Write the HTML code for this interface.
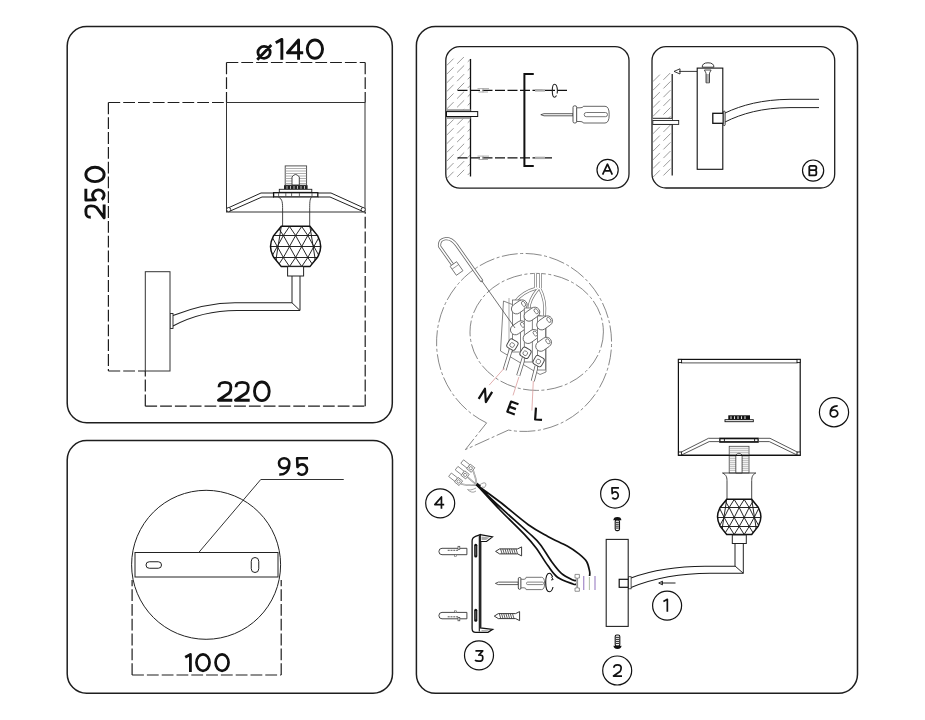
<!DOCTYPE html>
<html><head><meta charset="utf-8"><style>
html,body{margin:0;padding:0;background:#fff;width:925px;height:720px;overflow:hidden}
svg{display:block}
text{font-family:"Liberation Sans",sans-serif}
</style></head><body>
<svg width="925" height="720" viewBox="0 0 925 720" font-family="Liberation Sans, sans-serif">
<rect width="925" height="720" fill="#fff"/>
<rect x="67.2" y="26.6" width="325.1" height="396.2" rx="19.5" fill="none" stroke="#1e1e1e" stroke-width="1.5"/>
<g fill="none" stroke="#1e1e1e" stroke-width="1.2" stroke-dasharray="11.8 3"><path d="M226.5,62.5 V102.5 M226.5,62.5 H365.2 M365.2,62.5 V102.5"/><path d="M108.4,102.5 V371 M108.4,102.5 H226.5 M108.4,371 H145.3"/><path d="M145.3,406.2 V371 M145.3,406.2 H365.2 M365.2,406.2 V212"/></g>
<rect x="226.5" y="102.5" width="138.5" height="109.5" fill="none" stroke="#333" stroke-width="1"/>
<path d="M228,208 L261,193 H274 M229.5,211.3 L262,197 H274 M364,208 L331,193 H318 M362.5,211.3 L330,197 H318" fill="none" stroke="#222" stroke-width="1"/>
<circle cx="228.6" cy="209.6" r="2.1" fill="#fff" stroke="#222" stroke-width="0.9"/><circle cx="363.2" cy="209.6" r="2.1" fill="#fff" stroke="#222" stroke-width="0.9"/>
<rect x="285.2" y="165.9" width="21.4" height="19.3" fill="#fff" stroke="#444" stroke-width="0.9"/>
<path d="M285.5,168.5 H306.3 M285.5,171.0 H306.3 M285.5,173.5 H306.3 M285.5,176.0 H306.3 M285.5,178.5 H306.3 M285.5,181.0 H306.3 M285.5,183.5 H306.3" stroke="#999" stroke-width="0.8"/>
<path d="M292,185 V177 Q295.6,172 299.3,177 V185 Z" fill="#fff" stroke="#333" stroke-width="0.9"/>
<rect x="284" y="185.2" width="23.6" height="4.2" fill="#222"/>
<path d="M287,186 V189 M290.5,186 V189 M294,186 V189 M297.5,186 V189 M301,186 V189 M304.5,186 V189" stroke="#bbb" stroke-width="1"/>
<rect x="279.3" y="189.3" width="32.5" height="3" fill="#fff" stroke="#222" stroke-width="0.9"/>
<rect x="273.6" y="192.7" width="44.2" height="4.2" fill="#fff" stroke="#111" stroke-width="1.3"/>
<path d="M278.6,193 V196.6 M285.8,193 V196.6 M291.6,193 V196.6 M299.4,193 V196.6 M312,193 V196.6" stroke="#444" stroke-width="0.8"/>
<path d="M278.5,197.2 C282.6,199 282.6,203 282.6,210 V226 M311.5,197.2 C309.7,199 309.7,203 309.7,210 V226" fill="none" stroke="#333" stroke-width="0.9"/>
<clipPath id="clip295226"><path d="M281.3,226.2 L309.9,226.2 L317.7,235.8 Q320.7,241.6 320.7,246.4 Q320.7,251.2 317.7,257.0 L309.9,266.6 L281.3,266.6 L273.5,257.0 Q270.5,251.2 270.5,246.4 Q270.5,241.6 273.5,235.8 Z"/></clipPath>
<g clip-path="url(#clip295226)" stroke="#1a1a1a" stroke-width="0.95" fill="none"><path d="M265.5,226.5 H325.7 M265.5,235.5 H325.7 M265.5,246.5 H325.7 M265.5,257.5 H325.7 M265.5,266.5 H325.7 M240.7,226.5 L234.6,235.5 M240.7,226.5 L246.8,235.5 M252.9,226.5 L246.8,235.5 M252.9,226.5 L259.0,235.5 M265.1,226.5 L259.0,235.5 M265.1,226.5 L271.2,235.5 M277.3,226.5 L271.2,235.5 M277.3,226.5 L283.4,235.5 M289.5,226.5 L283.4,235.5 M289.5,226.5 L295.6,235.5 M301.7,226.5 L295.6,235.5 M301.7,226.5 L307.8,235.5 M313.9,226.5 L307.8,235.5 M313.9,226.5 L320.0,235.5 M326.1,226.5 L320.0,235.5 M326.1,226.5 L332.2,235.5 M338.3,226.5 L332.2,235.5 M338.3,226.5 L344.4,235.5 M350.5,226.5 L344.4,235.5 M350.5,226.5 L356.6,235.5 M362.7,226.5 L356.6,235.5 M362.7,226.5 L368.8,235.5 M234.6,235.5 L228.5,246.5 M234.6,235.5 L240.7,246.5 M246.8,235.5 L240.7,246.5 M246.8,235.5 L252.9,246.5 M259.0,235.5 L252.9,246.5 M259.0,235.5 L265.1,246.5 M271.2,235.5 L265.1,246.5 M271.2,235.5 L277.3,246.5 M283.4,235.5 L277.3,246.5 M283.4,235.5 L289.5,246.5 M295.6,235.5 L289.5,246.5 M295.6,235.5 L301.7,246.5 M307.8,235.5 L301.7,246.5 M307.8,235.5 L313.9,246.5 M320.0,235.5 L313.9,246.5 M320.0,235.5 L326.1,246.5 M332.2,235.5 L326.1,246.5 M332.2,235.5 L338.3,246.5 M344.4,235.5 L338.3,246.5 M344.4,235.5 L350.5,246.5 M356.6,235.5 L350.5,246.5 M356.6,235.5 L362.7,246.5 M240.7,246.5 L234.6,257.5 M240.7,246.5 L246.8,257.5 M252.9,246.5 L246.8,257.5 M252.9,246.5 L259.0,257.5 M265.1,246.5 L259.0,257.5 M265.1,246.5 L271.2,257.5 M277.3,246.5 L271.2,257.5 M277.3,246.5 L283.4,257.5 M289.5,246.5 L283.4,257.5 M289.5,246.5 L295.6,257.5 M301.7,246.5 L295.6,257.5 M301.7,246.5 L307.8,257.5 M313.9,246.5 L307.8,257.5 M313.9,246.5 L320.0,257.5 M326.1,246.5 L320.0,257.5 M326.1,246.5 L332.2,257.5 M338.3,246.5 L332.2,257.5 M338.3,246.5 L344.4,257.5 M350.5,246.5 L344.4,257.5 M350.5,246.5 L356.6,257.5 M362.7,246.5 L356.6,257.5 M362.7,246.5 L368.8,257.5 M234.6,257.5 L228.5,266.5 M234.6,257.5 L240.7,266.5 M246.8,257.5 L240.7,266.5 M246.8,257.5 L252.9,266.5 M259.0,257.5 L252.9,266.5 M259.0,257.5 L265.1,266.5 M271.2,257.5 L265.1,266.5 M271.2,257.5 L277.3,266.5 M283.4,257.5 L277.3,266.5 M283.4,257.5 L289.5,266.5 M295.6,257.5 L289.5,266.5 M295.6,257.5 L301.7,266.5 M307.8,257.5 L301.7,266.5 M307.8,257.5 L313.9,266.5 M320.0,257.5 L313.9,266.5 M320.0,257.5 L326.1,266.5 M332.2,257.5 L326.1,266.5 M332.2,257.5 L338.3,266.5 M344.4,257.5 L338.3,266.5 M344.4,257.5 L350.5,266.5 M356.6,257.5 L350.5,266.5 M356.6,257.5 L362.7,266.5"/><path d="M281.3,226.2 L276.3,257.5 L276.3,266.5 L281.3,266.6 M309.9,226.2 L314.9,257.5 L314.9,266.5 L309.9,266.6"/></g>
<path d="M281.3,226.2 L309.9,226.2 L317.7,235.8 Q320.7,241.6 320.7,246.4 Q320.7,251.2 317.7,257.0 L309.9,266.6 L281.3,266.6 L273.5,257.0 Q270.5,251.2 270.5,246.4 Q270.5,241.6 273.5,235.8 Z" fill="none" stroke="#111" stroke-width="1.5"/>
<rect x="287.6" y="266.6" width="16" height="9.4" fill="#fff" stroke="#222" stroke-width="1"/>
<path d="M292,276 V302.8 L300,310.5 V276" fill="none" stroke="#222" stroke-width="1"/>
<path d="M173,315.5 Q205,303 235,302.8 L292,302.8 M173,326 Q202,310.5 237,310.5 L300,310.5" fill="none" stroke="#222" stroke-width="1.1"/>
<rect x="170" y="313.5" width="3" height="15" fill="#fff" stroke="#222" stroke-width="0.9"/>
<rect x="145.3" y="271.7" width="24.7" height="99.3" fill="#fff" stroke="#333" stroke-width="1"/>
<path d="M257.90,52.35 A6.15,5.95 0 1 1 270.20,52.35 A6.15,5.95 0 1 1 257.90,52.35 Z M257.25,59.70 L271.30,45.00" fill="none" stroke="#111" stroke-width="2.8" stroke-linejoin="round"/>
<path d="M281.85,59.70 V39.37 L275.73,42.74" fill="none" stroke="#111" stroke-width="2.9" stroke-linejoin="round"/>
<path d="M298.56,59.70 V39.95 L287.45,52.81 H303.20" fill="none" stroke="#111" stroke-width="2.9" stroke-linejoin="round"/>
<path d="M307.25,49.10 A7.65,9.15 0 1 1 322.55,49.10 A7.65,9.15 0 1 1 307.25,49.10 Z" fill="none" stroke="#111" stroke-width="2.9" stroke-linejoin="round"/>
<path d="M1.45,6.36 C1.45,2.12 3.58,1.45 7.15,1.45 C11.15,1.45 12.85,2.54 12.85,6.36 C12.85,8.90 12.58,10.60 11.15,12.30 L0.87,19.75 H14.30" fill="none" stroke="#111" stroke-width="2.9" stroke-linejoin="round" transform="translate(84.4,218.7) rotate(-90)"/>
<path d="M30.01,1.45 H18.57 L19.01,11.11 A5.27,5.76 0 1 1 19.26,17.29" fill="none" stroke="#111" stroke-width="2.9" stroke-linejoin="round" transform="translate(84.4,218.7) rotate(-90)"/>
<path d="M37.05,10.60 A7.20,9.15 0 1 1 51.45,10.60 A7.20,9.15 0 1 1 37.05,10.60 Z" fill="none" stroke="#111" stroke-width="2.9" stroke-linejoin="round" transform="translate(84.4,218.7) rotate(-90)"/>
<path d="M219.03,387.14 C219.03,382.98 221.28,382.32 224.95,382.32 C229.07,382.32 230.87,383.40 230.87,387.14 C230.87,389.64 230.54,391.30 229.07,392.96 L218.45,400.27 H232.30" fill="none" stroke="#111" stroke-width="2.85" stroke-linejoin="round"/>
<path d="M236.03,387.14 C236.03,382.98 238.38,382.32 242.15,382.32 C246.38,382.32 248.27,383.40 248.27,387.14 C248.27,389.64 247.89,391.30 246.38,392.96 L235.45,400.27 H249.70" fill="none" stroke="#111" stroke-width="2.85" stroke-linejoin="round"/>
<path d="M254.53,391.30 A7.33,8.97 0 1 1 269.18,391.30 A7.33,8.97 0 1 1 254.53,391.30 Z" fill="none" stroke="#111" stroke-width="2.85" stroke-linejoin="round"/>
<rect x="67.2" y="440.6" width="325.3" height="252.7" rx="19.5" fill="none" stroke="#1e1e1e" stroke-width="1.5"/>
<circle cx="206.1" cy="564.8" r="74.5" fill="none" stroke="#222" stroke-width="1"/>
<rect x="135" y="552.5" width="143" height="24.5" fill="#fff" stroke="#222" stroke-width="1"/>
<rect x="146" y="561.75" width="15.5" height="6.5" rx="3.25" fill="none" stroke="#222" stroke-width="1"/>
<rect x="251.25" y="557.5" width="7.5" height="15" rx="3.75" fill="none" stroke="#222" stroke-width="1"/>
<path d="M198.75,552.5 L260.75,479.5 H343.75" fill="none" stroke="#333" stroke-width="1"/>
<path d="M132.1,675 V580 M132.1,675 H281.2 M281.2,675 V580" fill="none" stroke="#1e1e1e" stroke-width="1.2" stroke-dasharray="11.8 3"/>
<path d="M279.00,463.30 A5.15,5.00 0 1 1 289.30,463.30 A5.15,5.00 0 1 1 279.00,463.30 M289.30,463.30 C289.30,472.28 284.15,474.80 279.25,474.54" fill="none" stroke="#111" stroke-width="2.6" stroke-linejoin="round"/>
<path d="M308.03,458.30 H297.15 L297.50,467.01 A5.09,5.19 0 1 1 297.74,472.59" fill="none" stroke="#111" stroke-width="2.6" stroke-linejoin="round"/>
<path d="M190.40,671.90 V654.44 L185.20,657.26" fill="none" stroke="#111" stroke-width="2.8" stroke-linejoin="round"/>
<path d="M196.45,662.60 A6.55,8.25 0 1 1 209.55,662.60 A6.55,8.25 0 1 1 196.45,662.60 Z" fill="none" stroke="#111" stroke-width="2.7" stroke-linejoin="round"/>
<path d="M215.55,662.60 A6.50,8.25 0 1 1 228.55,662.60 A6.50,8.25 0 1 1 215.55,662.60 Z" fill="none" stroke="#111" stroke-width="2.7" stroke-linejoin="round"/>
<rect x="416.4" y="26.5" width="441.1" height="666.8" rx="19" fill="none" stroke="#1e1e1e" stroke-width="1.5"/>
<rect x="445.8" y="46.6" width="183.2" height="141.5" rx="14" fill="none" stroke="#1e1e1e" stroke-width="1.3"/>
<clipPath id="hA"><rect x="446.5" y="57" width="24.0" height="121"/></clipPath>
<g clip-path="url(#hA)" stroke="#8a8a8a" stroke-width="0.85" stroke-dasharray="10 5"><path d="M446.5,57.0 L470.5,33.0 M446.5,65.7 L470.5,41.7 M446.5,74.4 L470.5,50.4 M446.5,83.1 L470.5,59.1 M446.5,91.8 L470.5,67.8 M446.5,100.5 L470.5,76.5 M446.5,109.2 L470.5,85.2 M446.5,117.9 L470.5,93.9 M446.5,126.6 L470.5,102.6 M446.5,135.3 L470.5,111.3 M446.5,144.0 L470.5,120.0 M446.5,152.7 L470.5,128.7 M446.5,161.4 L470.5,137.4 M446.5,170.1 L470.5,146.1 M446.5,178.8 L470.5,154.8 M446.5,187.5 L470.5,163.5 M446.5,196.2 L470.5,172.2 M446.5,204.9 L470.5,180.9 M446.5,213.6 L470.5,189.6 M446.5,222.3 L470.5,198.3"/></g>
<path d="M470.5,59 V176.5" stroke="#111" stroke-width="1.3"/>
<rect x="446.5" y="109.2" width="24" height="9.7" fill="#999"/>
<rect x="446.5" y="111.6" width="31.2" height="4.9" fill="#fff" stroke="#111" stroke-width="1"/>
<path d="M457.5,90.4 H567 M457.5,157.9 H552" stroke="#111" stroke-width="1.2" stroke-dasharray="10 2.5"/>
<path d="M477.5,88.60000000000001 H489 M478.5,92.0 H488 M483,88.4 V92.4" fill="none" stroke="#999" stroke-width="0.8"/>
<rect x="535" y="89.2" width="10" height="2.4" fill="#aaa"/>
<path d="M477.5,156.1 H489 M478.5,159.5 H488 M483,155.9 V159.9" fill="none" stroke="#999" stroke-width="0.8"/>
<rect x="535" y="156.70000000000002" width="10" height="2.4" fill="#aaa"/>
<path d="M533.75,74 H524.4 V166 H533.75" fill="none" stroke="#111" stroke-width="2"/>
<path d="M556.5,95.5 Q555.5,97.3 554.5,97.3 Q552.3,97.3 552.3,90.8 Q552.3,84.3 554.5,84.3 Q557.2,84.3 557.4,90.8 Q557.4,92.5 557,93.5" fill="none" stroke="#222" stroke-width="1.1"/>
<path d="M540.8,114.7 L544,113.7 H573 V115.8 H544 Z" fill="#fff" stroke="#333" stroke-width="0.8"/>
<rect x="573" y="105.8" width="3.7" height="17.2" rx="1.6" fill="#fff" stroke="#444" stroke-width="0.9"/>
<path d="M576.7,107.8 H580 Q583.3,107.8 583.3,106.3 H605 Q609.2,106.3 609.2,114.6 Q609.2,123 605,123 H583.3 Q583.3,121.5 580,121.5 H576.7 Z" fill="#fff" stroke="#555" stroke-width="0.9"/>
<rect x="584.2" y="112.5" width="23.3" height="4.2" rx="2.1" fill="none" stroke="#555" stroke-width="0.8"/>
<circle cx="607.6" cy="169.9" r="10.6" fill="#fff" stroke="#111" stroke-width="1.2"/>
<path d="M602.62,174.70 L607.45,164.15 L612.28,174.70 M605.04,170.82 H609.87" fill="none" stroke="#111" stroke-width="1.7" stroke-linejoin="round"/>
<rect x="652" y="46.7" width="182.7" height="141.3" rx="14" fill="none" stroke="#1e1e1e" stroke-width="1.3"/>
<clipPath id="hB"><rect x="652.8" y="73" width="19.200000000000045" height="104"/></clipPath>
<g clip-path="url(#hB)" stroke="#8a8a8a" stroke-width="0.85" stroke-dasharray="10 5"><path d="M652.8,73.0 L672.0,53.8 M652.8,81.7 L672.0,62.5 M652.8,90.4 L672.0,71.2 M652.8,99.1 L672.0,79.9 M652.8,107.8 L672.0,88.6 M652.8,116.5 L672.0,97.3 M652.8,125.2 L672.0,106.0 M652.8,133.9 L672.0,114.7 M652.8,142.6 L672.0,123.4 M652.8,151.3 L672.0,132.1 M652.8,160.0 L672.0,140.8 M652.8,168.7 L672.0,149.5 M652.8,177.4 L672.0,158.2 M652.8,186.1 L672.0,166.9 M652.8,194.8 L672.0,175.6 M652.8,203.5 L672.0,184.3 M652.8,212.2 L672.0,193.0"/></g>
<path d="M672.2,73.9 V175.5" stroke="#111" stroke-width="1.2"/>
<rect x="652.8" y="118.3" width="19.4" height="6.1" fill="#fff"/>
<path d="M652.8,118.3 H672.2 M652.8,124.4 H672.2" stroke="#222" stroke-width="1"/>
<rect x="652.8" y="120.5" width="25.9" height="3.9" fill="#fff" stroke="#222" stroke-width="0.9"/>
<path d="M697.2,71.4 H679 M680,68.8 L674,71.4 L680,74 Z" fill="#fff" stroke="#222" stroke-width="0.9"/>
<rect x="697.2" y="68.1" width="25.6" height="101.2" fill="#fff" stroke="#111" stroke-width="1.1"/>
<path d="M702.2,67.2 Q702.2,62.8 708,62.8 Q713.9,62.8 713.9,67.2 Z" fill="#fff" stroke="#222" stroke-width="0.9"/>
<path d="M704.4,70 H711.1 L709.5,73 V82.8 H706 V73 Z" fill="#fff" stroke="#222" stroke-width="0.8"/>
<path d="M706,75 H709.5 M706,77 H709.5 M706,79 H709.5 M706,81 H709.5" stroke="#222" stroke-width="0.7"/>
<rect x="712.8" y="113.3" width="10.5" height="10" fill="#fff" stroke="#111" stroke-width="1.3"/>
<path d="M725,113 C742,105 762,99.6 790,99.3 L819,99.3 M725,122 C742,113.5 762,107.8 790,107.6 L819,107.6" fill="none" stroke="#222" stroke-width="1"/>
<rect x="723.3" y="111.1" width="1.8" height="14.5" rx="0.9" fill="#fff" stroke="#222" stroke-width="0.9"/>
<circle cx="813.1" cy="170.6" r="10.6" fill="#fff" stroke="#111" stroke-width="1.2"/>
<path d="M809.30,165.90 V175.30 H814.98 C816.90,175.30 816.90,170.04 814.98,170.04 H809.30 M809.30,165.90 H814.51 C817.05,165.90 817.05,170.04 814.51,170.04" fill="none" stroke="#111" stroke-width="1.8" stroke-linejoin="round"/>
<path d="M486.6,422.9 A87.5,89 0 1 1 508.5,430.05 L465.4,449.6 Z" fill="none" stroke="#6a6a6a" stroke-width="0.8" stroke-dasharray="16 2.5 3 2.5"/>
<ellipse cx="536.7" cy="331.9" rx="66.7" ry="58.5" fill="none" stroke="#6a6a6a" stroke-width="0.8" stroke-dasharray="16 2.5 3 2.5"/>
<path d="M481.5,280.5 L456.5,245 Q451,237.5 445,238.8 Q438.8,240 439.6,246.5 L453.5,266" fill="none" stroke="#6a6a6a" stroke-width="3.2" stroke-linecap="round"/>
<path d="M481.5,280.5 L456.5,245 Q451,237.5 445,238.8 Q438.8,240 439.6,246.5 L453.5,266" fill="none" stroke="#fff" stroke-width="1.6" stroke-linecap="round"/>
<g transform="translate(456.5,268.5) rotate(-35)"><rect x="-4" y="-5.5" width="8" height="11" fill="#fff" stroke="#666" stroke-width="0.8"/><path d="M-4,-2 H4" stroke="#666" stroke-width="0.6"/></g>
<path d="M503.5,301 L500.5,351 L540,374.5 L546,372 L546,318 Z" fill="#fff" stroke="#666" stroke-width="0.8"/>
<path d="M509,298 V352" stroke="#888" stroke-width="0.7"/>
<path d="M535.5,273 V288 M540.5,273 V288 M537,288 Q522,292 515,302 M538,289 Q529,300 529,309 M540,289 Q546,300 544.5,316" fill="none" stroke="#777" stroke-width="3" />
<path d="M535.5,273 V288 M540.5,273 V288 M537,288 Q522,292 515,302 M538,289 Q529,300 529,309 M540,289 Q546,300 544.5,316" fill="none" stroke="#fff" stroke-width="1.6" />
<path d="M510.9,349.4 L504.6,369.8 M524,357.2 L518.2,375.7 M536.6,366 L532.8,381" fill="none" stroke="#666" stroke-width="4" />
<path d="M510.9,349.4 L504.6,369.8 M524,357.2 L518.2,375.7 M536.6,366 L532.8,381" fill="none" stroke="#fff" stroke-width="2.4" />
<rect x="512.4" y="300" width="8" height="52" fill="#fff" stroke="#666" stroke-width="0.8"/>
<g transform="translate(519.3,306.9) rotate(-35)"><rect x="-8.5" y="-5" width="17" height="10" rx="5" fill="#fff" stroke="#555" stroke-width="0.8"/><ellipse cx="5.2" cy="0" rx="1.7" ry="2.8" fill="none" stroke="#555" stroke-width="0.7"/></g>
<g transform="translate(518.3,327.8) rotate(-35)"><rect x="-8.5" y="-5" width="17" height="10" rx="5" fill="#fff" stroke="#555" stroke-width="0.8"/><ellipse cx="5.2" cy="0" rx="1.7" ry="2.8" fill="none" stroke="#555" stroke-width="0.7"/></g>
<g transform="translate(512.4,344.6) rotate(30)"><rect x="-4.8" y="-4.8" width="9.6" height="9.6" rx="2.5" fill="#fff" stroke="#444" stroke-width="0.9"/><circle cx="0" cy="0.5" r="2.3" fill="none" stroke="#555" stroke-width="0.7"/></g>
<rect x="524.3" y="308" width="8" height="54" fill="#fff" stroke="#666" stroke-width="0.8"/>
<g transform="translate(531.9,314.2) rotate(-35)"><rect x="-8.5" y="-5" width="17" height="10" rx="5" fill="#fff" stroke="#555" stroke-width="0.8"/><ellipse cx="5.2" cy="0" rx="1.7" ry="2.8" fill="none" stroke="#555" stroke-width="0.7"/></g>
<g transform="translate(531.0,336.5) rotate(-35)"><rect x="-8.5" y="-5" width="17" height="10" rx="5" fill="#fff" stroke="#555" stroke-width="0.8"/><ellipse cx="5.2" cy="0" rx="1.7" ry="2.8" fill="none" stroke="#555" stroke-width="0.7"/></g>
<g transform="translate(525.5,352.8) rotate(30)"><rect x="-4.8" y="-4.8" width="9.6" height="9.6" rx="2.5" fill="#fff" stroke="#444" stroke-width="0.9"/><circle cx="0" cy="0.5" r="2.3" fill="none" stroke="#555" stroke-width="0.7"/></g>
<rect x="537.4" y="316" width="8" height="54" fill="#fff" stroke="#666" stroke-width="0.8"/>
<g transform="translate(544.6,322.9) rotate(-35)"><rect x="-8.5" y="-5" width="17" height="10" rx="5" fill="#fff" stroke="#555" stroke-width="0.8"/><ellipse cx="5.2" cy="0" rx="1.7" ry="2.8" fill="none" stroke="#555" stroke-width="0.7"/></g>
<g transform="translate(543.6,344.3) rotate(-35)"><rect x="-8.5" y="-5" width="17" height="10" rx="5" fill="#fff" stroke="#555" stroke-width="0.8"/><ellipse cx="5.2" cy="0" rx="1.7" ry="2.8" fill="none" stroke="#555" stroke-width="0.7"/></g>
<g transform="translate(538.6,361.1) rotate(30)"><rect x="-4.8" y="-4.8" width="9.6" height="9.6" rx="2.5" fill="#fff" stroke="#444" stroke-width="0.9"/><circle cx="0" cy="0.5" r="2.3" fill="none" stroke="#555" stroke-width="0.7"/></g>
<path d="M481.5,280.5 L515,328" stroke="#444" stroke-width="0.75"/>
<path d="M489.2,385.1 L504.4,368 M513,395.4 L518.9,377 M531.9,410.5 L533.3,381" stroke="#d99a9a" stroke-width="0.8"/>
<path d="M-3.90,6.50 V-5.40 L3.90,5.40 V-6.50" fill="none" stroke="#111" stroke-width="2.2" stroke-linejoin="round" transform="translate(485.4,395.4) rotate(32)"/>
<path d="M4.50,-5.40 H-3.40 V5.40 H4.50 M-3.40,0.00 H3.78" fill="none" stroke="#111" stroke-width="2.2" stroke-linejoin="round" transform="translate(512.4,407.8) rotate(20)"/>
<path d="M-2.90,-6.50 V5.40 H4.00" fill="none" stroke="#111" stroke-width="2.2" stroke-linejoin="round" transform="translate(538.4,414.3) rotate(4)"/>
<circle cx="440.2" cy="503.3" r="14.5" fill="#fff" stroke="#111" stroke-width="1.2"/>
<path d="M441.45,508.80 V496.95 L434.85,504.67 H444.20" fill="none" stroke="#111" stroke-width="1.7" stroke-linejoin="round"/>
<g transform="translate(470.7,468.2) rotate(38)" fill="#fff" stroke="#777" stroke-width="0.8"><rect x="-10.8" y="-2.2" width="8" height="4.4"/><rect x="-2.8" y="-2.9" width="5.8" height="5.8"/><circle cx="0.1" cy="0" r="1.6"/></g>
<g transform="translate(465.1,474.8) rotate(38)" fill="#fff" stroke="#777" stroke-width="0.8"><rect x="-10.8" y="-2.2" width="8" height="4.4"/><rect x="-2.8" y="-2.9" width="5.8" height="5.8"/><circle cx="0.1" cy="0" r="1.6"/></g>
<g transform="translate(458.5,481.4) rotate(38)" fill="#fff" stroke="#777" stroke-width="0.8"><rect x="-10.8" y="-2.2" width="8" height="4.4"/><rect x="-2.8" y="-2.9" width="5.8" height="5.8"/><circle cx="0.1" cy="0" r="1.6"/></g>
<path d="M473,470 Q476,478 476.8,484.9 M467.5,477 Q473,482 476.8,484.9 M461,484 Q470,486 476.8,484.9" fill="none" stroke="#888" stroke-width="1.6"/>
<path d="M473,470 Q476,478 476.8,484.9 M467.5,477 Q473,482 476.8,484.9 M461,484 Q470,486 476.8,484.9" fill="none" stroke="#fff" stroke-width="0.5"/>
<path d="M478,486 Q486,480 486,485 Q485,489 482,487 M476,488 Q470,491 467.5,489.5 Q472,494 476,491" fill="none" stroke="#999" stroke-width="0.9"/>
<path d="M476.8,484.9 C480.7,487.8 491.4,495.4 500.0,502.0 C508.6,508.6 520.3,519.0 528.3,524.7 C536.3,530.4 541.3,532.8 547.8,536.4 C554.3,540.0 562.0,543.2 567.2,546.1 C572.4,549.0 575.6,551.3 578.9,553.9 C582.1,556.5 584.9,558.8 586.7,561.7 C588.5,564.6 589.1,569.0 589.6,571.4 C590.1,573.8 589.6,575.2 589.6,576.0 M476.8,484.9 C480.7,488.6 491.4,499.1 500.0,507.0 C508.6,514.9 521.6,526.3 528.3,532.5 C535.0,538.7 536.1,539.3 540.0,544.2 C543.9,549.1 548.1,556.9 551.7,561.7 C555.3,566.6 557.9,570.2 561.4,573.3 C564.9,576.4 570.6,578.9 573.0,580.1 C575.4,581.3 575.5,580.3 576.0,580.3 M476.8,484.9 C480.7,489.1 492.1,501.8 500.0,510.0 C507.9,518.2 518.4,528.1 524.4,534.4 C530.4,540.7 532.2,542.8 536.1,548.0 C540.0,553.2 544.2,560.7 547.8,565.6 C551.4,570.5 553.3,574.1 557.5,577.2 C561.7,580.3 569.9,582.8 573.0,584.0 C576.1,585.2 575.5,584.2 576.0,584.2" fill="none" stroke="#111" stroke-width="1.7"/>
<path d="M476.5,484 L480,487" stroke="#111" stroke-width="3"/>
<path d="M575,574.4 H579.4 V578 H577.6 V588 H579.4 V591.25 H575 V588 H576.8 V578 H575 Z" fill="#fff" stroke="#777" stroke-width="0.8"/>
<path d="M583.75,576 V590 M595,576 V590" stroke="#9b7fc4" stroke-width="1.1"/>
<path d="M589.4,577 V590" stroke="#a5b59b" stroke-width="0.9"/>
<circle cx="479" cy="655.3" r="14.5" fill="#fff" stroke="#111" stroke-width="1.2"/>
<path d="M475.43,650.85 H482.74 L478.87,655.04 C483.17,654.80 482.75,656.60 482.75,658.40 C482.75,661.04 481.02,661.15 478.87,661.15 C477.58,661.15 475.86,661.04 475.00,660.20" fill="none" stroke="#111" stroke-width="1.7" stroke-linejoin="round"/>
<path d="M480.3,534.6 L475.5,536.3 Q472.1,537.6 472.1,541 V628.5 Q472.1,632.4 475.8,632.4 H488 L492.6,629.4 L480.3,627.9 Z" fill="#fff" stroke="#111" stroke-width="1.3"/>
<path d="M479.3,536 V631.5" stroke="#111" stroke-width="1.1"/>
<path d="M480.3,534.6 L492.6,536.9 L486.5,541.5 H480.3 Z" fill="#fff" stroke="#111" stroke-width="1.1"/>
<path d="M481.5,536.5 L489.5,537.6 L486,540 H481.5 Z M481.5,630 L489.5,630.2 L486.5,631.5 H481.5 Z" fill="#aaa"/>
<path d="M481,541.5 V627.9" stroke="#333" stroke-width="0.9"/>
<rect x="474.2" y="543.8" width="3.1" height="13.7" rx="1.5" fill="#111"/><rect x="474.2" y="608.7" width="3.1" height="13" rx="1.5" fill="#111"/>
<path d="M475.75,546 V555.5 M475.75,611 V619.5" stroke="#888" stroke-width="0.7"/>
<path d="M442,548.3 H466.9 V554.7 H442 Q438.9,554.7 438.9,551.5 Q438.9,548.3 442,548.3 Z" fill="#fff" stroke="#333" stroke-width="0.9"/>
<path d="M447.7,550.3 H458.4" stroke="#444" stroke-width="0.9" stroke-dasharray="2 0.8"/>
<rect x="458" y="546.3" width="1.8" height="3.2" fill="#fff" stroke="#444" stroke-width="0.7"/>
<rect x="454.6" y="554.7" width="2" height="1.5" fill="#fff" stroke="#555" stroke-width="0.6"/>
<path d="M442,612.4 H466.9 V618.8000000000001 H442 Q438.9,618.8000000000001 438.9,615.6 Q438.9,612.4 442,612.4 Z" fill="#fff" stroke="#333" stroke-width="0.9"/>
<path d="M447.7,616.8000000000001 H458.4" stroke="#444" stroke-width="0.9" stroke-dasharray="2 0.8"/>
<rect x="458" y="617.6" width="1.8" height="3.2" fill="#fff" stroke="#444" stroke-width="0.7"/>
<rect x="454.6" y="610.9" width="2" height="1.5" fill="#fff" stroke="#555" stroke-width="0.6"/>
<path d="M495.6,551.4 L499.6,548.9 H517.6 L521.6,546.9 V555.9 L517.6,553.9 H499.6 Z" fill="#fff" stroke="#222" stroke-width="0.9"/>
<path d="M500.6,548.9 L502.1,553.9 M502.8,548.9 L504.3,553.9 M505.0,548.9 L506.5,553.9 M507.2,548.9 L508.7,553.9 M509.4,548.9 L510.9,553.9 M511.6,548.9 L513.1,553.9 M513.8,548.9 L515.3,553.9 M516.0,548.9 L517.5,553.9" stroke="#333" stroke-width="0.8"/>
<path d="M494.3,616.1 L498.3,613.6 H515.6 L519.6,611.6 V620.6 L515.6,618.6 H498.3 Z" fill="#fff" stroke="#222" stroke-width="0.9"/>
<path d="M499.3,613.6 L500.8,618.6 M501.5,613.6 L503.0,618.6 M503.7,613.6 L505.2,618.6 M505.9,613.6 L507.4,618.6 M508.1,613.6 L509.6,618.6 M510.3,613.6 L511.8,618.6 M512.5,613.6 L514.0,618.6" stroke="#333" stroke-width="0.8"/>
<path d="M495.4,583.4 L498.3,582.1 H518.3 V584.6 H498.3 Z" fill="#fff" stroke="#333" stroke-width="0.8"/>
<rect x="518.3" y="577.5" width="2.7" height="11.8" rx="1.3" fill="#fff" stroke="#333" stroke-width="0.9"/>
<path d="M521,579.3 H524 Q526.1,579.3 526.1,577.3 H541.5 Q544.6,577.3 544.6,583.4 Q544.6,589.6 541.5,589.6 H526.1 Q526.1,587.8 524,587.8 H521 Z" fill="#fff" stroke="#666" stroke-width="0.9"/>
<rect x="526.5" y="582.1" width="17.1" height="2.5" rx="1.2" fill="none" stroke="#666" stroke-width="0.8"/>
<path d="M552.6,577 Q551,573.2 549.5,573.2 Q545.7,573.2 545.7,582.4 Q545.7,591.7 549.5,591.7 Q552,591.7 553,587" fill="none" stroke="#111" stroke-width="1.1"/>
<path d="M551.5,577 L553.2,579.5 L551,580" fill="none" stroke="#111" stroke-width="0.9"/>
<circle cx="615.05" cy="493.7" r="14.4" fill="#fff" stroke="#111" stroke-width="1.2"/>
<path d="M618.93,487.85 H611.97 L612.21,493.70 A3.24,3.50 0 1 1 612.36,497.46" fill="none" stroke="#111" stroke-width="1.7" stroke-linejoin="round"/>
<circle cx="617.2" cy="670.5" r="14.5" fill="#fff" stroke="#111" stroke-width="1.2"/>
<path d="M613.85,667.87 C613.85,665.29 615.25,664.85 617.50,664.85 C620.02,664.85 621.15,665.55 621.15,667.87 C621.15,669.42 620.92,670.45 620.02,671.48 L613.51,676.05 H622.00" fill="none" stroke="#111" stroke-width="1.7" stroke-linejoin="round"/>
<rect x="615.2" y="520" width="4.2999999999999545" height="10.600000000000023" rx="1.5" fill="#fff" stroke="#111" stroke-width="1.1"/>
<rect x="615.8000000000001" y="521.80" width="3.10" height="1.1" fill="#333"/>
<rect x="615.8000000000001" y="523.70" width="3.10" height="1.1" fill="#333"/>
<rect x="615.8000000000001" y="525.60" width="3.10" height="1.1" fill="#333"/>
<rect x="615.8000000000001" y="527.50" width="3.10" height="1.1" fill="#333"/>
<path d="M613.35,520.3 Q613.35,516.9 617.35,516.9 Q621.35,516.9 621.35,520.3 Z" fill="#111"/>
<rect x="615.2" y="635" width="4.599999999999909" height="11.100000000000023" rx="1.5" fill="#fff" stroke="#111" stroke-width="1.1"/>
<rect x="615.8000000000001" y="636.80" width="3.40" height="1.1" fill="#333"/>
<rect x="615.8000000000001" y="638.82" width="3.40" height="1.1" fill="#333"/>
<rect x="615.8000000000001" y="640.85" width="3.40" height="1.1" fill="#333"/>
<rect x="615.8000000000001" y="642.88" width="3.40" height="1.1" fill="#333"/>
<path d="M613.5,645.8 Q613.5,648.9 617.5,648.9 Q621.5,648.9 621.5,645.8 Z" fill="#111"/>
<rect x="606.2" y="539.4" width="22" height="87" fill="#fff" stroke="#222" stroke-width="1.1"/>
<rect x="619.2" y="579.3" width="9" height="8" fill="#fff" stroke="#111" stroke-width="1.2"/>
<path d="M631,578 C650,571 675,566.3 705,566.3 L735,566.3 M631,587.5 C652,579 680,573.3 710,573.3 L743.3,573.3" fill="none" stroke="#1a1a1a" stroke-width="1.1"/>
<rect x="628.5" y="576.7" width="2.6" height="12.1" fill="#fff" stroke="#222" stroke-width="0.8"/>
<path d="M675.5,583 H661 M662.5,581.2 L658.7,583 L662.5,584.8 Z" fill="#fff" stroke="#222" stroke-width="1"/>
<circle cx="667.1" cy="605.6" r="14.5" fill="#fff" stroke="#111" stroke-width="1.2"/>
<path d="M667.35,611.70 V599.31 L663.42,601.38" fill="none" stroke="#111" stroke-width="1.7" stroke-linejoin="round"/>
<circle cx="834" cy="412.2" r="14.6" fill="#fff" stroke="#111" stroke-width="1.2"/>
<path d="M830.25,413.48 A3.75,3.47 0 1 1 837.75,413.48 A3.75,3.47 0 1 1 830.25,413.48 M830.25,413.48 C830.25,408.28 833.08,405.95 837.68,405.95" fill="none" stroke="#111" stroke-width="1.7" stroke-linejoin="round"/>
<rect x="678.4" y="359.4" width="121.8" height="95.9" fill="#fff" stroke="#111" stroke-width="1.2"/>
<path d="M681,362.8 H797.6" stroke="#777" stroke-width="1.2"/>
<rect x="678.4" y="359.4" width="3.2" height="3.2" fill="#fff" stroke="#111" stroke-width="0.9"/>
<rect x="797.0" y="359.4" width="3.2" height="3.2" fill="#fff" stroke="#111" stroke-width="0.9"/>
<rect x="678.4" y="452.0" width="3.2" height="3.2" fill="#fff" stroke="#111" stroke-width="0.9"/>
<rect x="797.0" y="452.0" width="3.2" height="3.2" fill="#fff" stroke="#111" stroke-width="0.9"/>
<path d="M681,452.2 L708.5,438.3 H719.2 M681.5,455 L709.2,441.6 H719.2 M758.75,438.3 H770 L797.6,452.2 M758.75,441.6 H769.3 L797,455" fill="none" stroke="#444" stroke-width="0.9"/>
<rect x="719.2" y="437.6" width="39.55" height="5.2" fill="#111"/>
<rect x="720.5" y="439.3" width="37" height="1.8" fill="#fff"/>
<path d="M724.4,439 V441.4 M754.6,439 V441.4" stroke="#111" stroke-width="0.9"/>
<rect x="725" y="419.7" width="28.3" height="2" fill="#fff" stroke="#111" stroke-width="0.9"/>
<rect x="728.3" y="415.3" width="21.7" height="4.4" fill="#111"/>
<path d="M731,416.3 V419 M734.5,416.3 V419 M738,416.3 V419 M741.5,416.3 V419 M745,416.3 V419" stroke="#ddd" stroke-width="1.1"/>
<rect x="729.2" y="446.3" width="19.8" height="26.7" fill="#fff" stroke="#444" stroke-width="0.8"/>
<path d="M729.5,448.3 H748.7 M729.5,450.3 H748.7 M729.5,452.3 H748.7 M729.5,454.3 H748.7 M729.5,456.3 H748.7 M729.5,458.3 H748.7 M729.5,460.3 H748.7 M729.5,462.3 H748.7 M729.5,464.3 H748.7 M729.5,466.3 H748.7 M729.5,468.3 H748.7 M729.5,470.3 H748.7" stroke="#777" stroke-width="0.55"/>
<path d="M735.8,473 V455 Q738.95,451.5 742.1,455 V473 Z" fill="#fff" stroke="#333" stroke-width="0.8"/>
<path d="M678.4,455.3 H800.2" stroke="#111" stroke-width="1.2"/>
<path d="M722.5,473 H755.8 M722.5,473 C727,475 727,478 727,482 V499 M755.8,473 C751.7,475 751.7,478 751.7,482 V499" fill="none" stroke="#333" stroke-width="0.9"/>
<clipPath id="clip739499"><path d="M726.7,499.2 L751.7,499.2 L758.3,507.5 Q760.9,512.6 760.9,516.8 Q760.9,521.0 758.3,526.1 L751.7,534.4 L726.7,534.4 L720.1,526.1 Q717.5,521.0 717.5,516.8 Q717.5,512.6 720.1,507.5 Z"/></clipPath>
<g clip-path="url(#clip739499)" stroke="#1a1a1a" stroke-width="0.95" fill="none"><path d="M712.5,499.5 H765.9 M712.5,507.5 H765.9 M712.5,517.5 H765.9 M712.5,526.5 H765.9 M712.5,534.5 H765.9 M694.2,499.5 L689.2,507.5 M694.2,499.5 L699.2,507.5 M704.2,499.5 L699.2,507.5 M704.2,499.5 L709.2,507.5 M714.2,499.5 L709.2,507.5 M714.2,499.5 L719.2,507.5 M724.2,499.5 L719.2,507.5 M724.2,499.5 L729.2,507.5 M734.2,499.5 L729.2,507.5 M734.2,499.5 L739.2,507.5 M744.2,499.5 L739.2,507.5 M744.2,499.5 L749.2,507.5 M754.2,499.5 L749.2,507.5 M754.2,499.5 L759.2,507.5 M764.2,499.5 L759.2,507.5 M764.2,499.5 L769.2,507.5 M774.2,499.5 L769.2,507.5 M774.2,499.5 L779.2,507.5 M784.2,499.5 L779.2,507.5 M784.2,499.5 L789.2,507.5 M794.2,499.5 L789.2,507.5 M794.2,499.5 L799.2,507.5 M689.2,507.5 L684.2,517.5 M689.2,507.5 L694.2,517.5 M699.2,507.5 L694.2,517.5 M699.2,507.5 L704.2,517.5 M709.2,507.5 L704.2,517.5 M709.2,507.5 L714.2,517.5 M719.2,507.5 L714.2,517.5 M719.2,507.5 L724.2,517.5 M729.2,507.5 L724.2,517.5 M729.2,507.5 L734.2,517.5 M739.2,507.5 L734.2,517.5 M739.2,507.5 L744.2,517.5 M749.2,507.5 L744.2,517.5 M749.2,507.5 L754.2,517.5 M759.2,507.5 L754.2,517.5 M759.2,507.5 L764.2,517.5 M769.2,507.5 L764.2,517.5 M769.2,507.5 L774.2,517.5 M779.2,507.5 L774.2,517.5 M779.2,507.5 L784.2,517.5 M789.2,507.5 L784.2,517.5 M789.2,507.5 L794.2,517.5 M694.2,517.5 L689.2,526.5 M694.2,517.5 L699.2,526.5 M704.2,517.5 L699.2,526.5 M704.2,517.5 L709.2,526.5 M714.2,517.5 L709.2,526.5 M714.2,517.5 L719.2,526.5 M724.2,517.5 L719.2,526.5 M724.2,517.5 L729.2,526.5 M734.2,517.5 L729.2,526.5 M734.2,517.5 L739.2,526.5 M744.2,517.5 L739.2,526.5 M744.2,517.5 L749.2,526.5 M754.2,517.5 L749.2,526.5 M754.2,517.5 L759.2,526.5 M764.2,517.5 L759.2,526.5 M764.2,517.5 L769.2,526.5 M774.2,517.5 L769.2,526.5 M774.2,517.5 L779.2,526.5 M784.2,517.5 L779.2,526.5 M784.2,517.5 L789.2,526.5 M794.2,517.5 L789.2,526.5 M794.2,517.5 L799.2,526.5 M689.2,526.5 L684.2,534.5 M689.2,526.5 L694.2,534.5 M699.2,526.5 L694.2,534.5 M699.2,526.5 L704.2,534.5 M709.2,526.5 L704.2,534.5 M709.2,526.5 L714.2,534.5 M719.2,526.5 L714.2,534.5 M719.2,526.5 L724.2,534.5 M729.2,526.5 L724.2,534.5 M729.2,526.5 L734.2,534.5 M739.2,526.5 L734.2,534.5 M739.2,526.5 L744.2,534.5 M749.2,526.5 L744.2,534.5 M749.2,526.5 L754.2,534.5 M759.2,526.5 L754.2,534.5 M759.2,526.5 L764.2,534.5 M769.2,526.5 L764.2,534.5 M769.2,526.5 L774.2,534.5 M779.2,526.5 L774.2,534.5 M779.2,526.5 L784.2,534.5 M789.2,526.5 L784.2,534.5 M789.2,526.5 L794.2,534.5"/><path d="M726.7,499.2 L722.5,526.5 L722.5,534.5 L726.7,534.4 M751.7,499.2 L755.9,526.5 L755.9,534.5 L751.7,534.4"/></g>
<path d="M726.7,499.2 L751.7,499.2 L758.3,507.5 Q760.9,512.6 760.9,516.8 Q760.9,521.0 758.3,526.1 L751.7,534.4 L726.7,534.4 L720.1,526.1 Q717.5,521.0 717.5,516.8 Q717.5,512.6 720.1,507.5 Z" fill="none" stroke="#111" stroke-width="1.5"/>
<rect x="732.3" y="535" width="14" height="8.5" fill="#fff" stroke="#222" stroke-width="1"/>
<path d="M735,543.5 V566 L743.3,573.3 V543.5" fill="none" stroke="#222" stroke-width="1"/>
</svg>
</body></html>
